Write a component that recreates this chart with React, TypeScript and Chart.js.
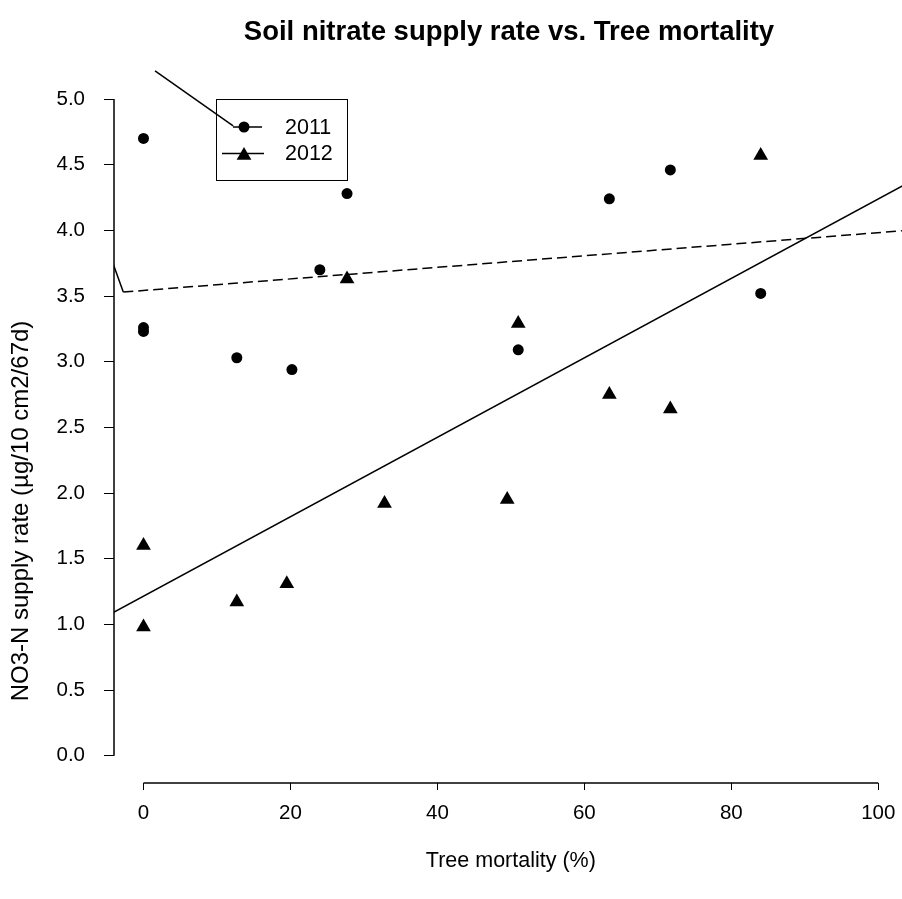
import { useEffect, useRef } from "react";
import { Chart, registerables } from "chart.js";

Chart.register(...registerables);

const FONT = "'Liberation Sans', Arial, Helvetica, sans-serif";

// Tree mortality (%) and NO3-N supply rate per plot
const mortality2011 = [0, 0, 0, 12.7, 20.2, 24, 27.7, 51, 63.4, 71.7, 84];
const nitrate2011 = [4.7, 3.26, 3.23, 3.03, 2.94, 3.7, 4.28, 3.09, 4.24, 4.46, 3.52];
const mortality2012 = [0, 0, 12.7, 19.5, 27.7, 32.8, 49.5, 51, 63.4, 71.7, 84];
const nitrate2012 = [1.6, 0.98, 1.17, 1.31, 3.63, 1.92, 1.95, 3.29, 2.75, 2.64, 4.57];

// Fitted lines (2011 dashed, 2012 solid)
const fit2011X = [-4.1, -2.75, 104];
const fit2011Y = [3.74, 3.53, 4.0];
const fit2012X = [-4.1, 104];
const fit2012Y = [1.09, 4.36];

// Leader line running into the 2011 legend entry
const leaderX = [1.57, 12.2];
const leaderY = [5.215, 4.795];

const xTicks = [0, 20, 40, 60, 80, 100];
const yTicks = [0, 0.5, 1, 1.5, 2, 2.5, 3, 3.5, 4, 4.5, 5];

const titleText = "Soil nitrate supply rate vs. Tree mortality";
const xTitle = "Tree mortality (%)";
const yTitle = "NO3-N supply rate (µg/10 cm2/67d)";
const seriesNames = ["2011", "2012"];

const pts = (xs: number[], ys: number[]) => xs.map((x, i) => ({ x, y: ys[i] }));

const decorations = {
  id: "decorations",
  afterDraw(chart: any) {
    const { ctx, chartArea, scales } = chart;
    const x = scales.x;
    const y = scales.y;
    ctx.save();
    ctx.strokeStyle = "#000";
    ctx.fillStyle = "#000";
    ctx.lineWidth = 1.5;

    // axis lines spanning only the data range
    ctx.beginPath();
    ctx.moveTo(chartArea.left, y.getPixelForValue(5));
    ctx.lineTo(chartArea.left, y.getPixelForValue(0));
    ctx.stroke();
    ctx.beginPath();
    ctx.moveTo(x.getPixelForValue(0), chartArea.bottom);
    ctx.lineTo(x.getPixelForValue(100), chartArea.bottom);
    ctx.stroke();

    // chart title
    ctx.font = `bold 27.5px ${FONT}`;
    ctx.textAlign = "center";
    ctx.textBaseline = "middle";
    ctx.fillText(titleText, 509, 32);

    // axis titles
    ctx.font = `21.5px ${FONT}`;
    ctx.fillText(xTitle, (x.getPixelForValue(0) + x.getPixelForValue(100)) / 2, 861);
    ctx.save();
    ctx.font = `24px ${FONT}`;
    ctx.translate(21, 511);
    ctx.rotate(-Math.PI / 2);
    ctx.fillText(yTitle, 0, 0);
    ctx.restore();

    // legend
    ctx.lineWidth = 1;
    ctx.strokeRect(216.5, 99.5, 131, 81);
    ctx.lineWidth = 1.5;
    ctx.beginPath();
    ctx.moveTo(233, 127);
    ctx.lineTo(262, 127);
    ctx.moveTo(222, 153.5);
    ctx.lineTo(264, 153.5);
    ctx.stroke();
    ctx.beginPath();
    ctx.arc(244, 127, 5.5, 0, Math.PI * 2);
    ctx.fill();
    const r = 8.5;
    const ty = 155.5;
    ctx.beginPath();
    ctx.moveTo(244, ty - r);
    ctx.lineTo(244 + r * Math.sin((2 * Math.PI) / 3), ty + r * 0.5);
    ctx.lineTo(244 - r * Math.sin((2 * Math.PI) / 3), ty + r * 0.5);
    ctx.closePath();
    ctx.fill();
    ctx.font = `21.5px ${FONT}`;
    ctx.textAlign = "left";
    ctx.fillText(seriesNames[0], 285, 128);
    ctx.fillText(seriesNames[1], 285, 154);
    ctx.restore();
  },
};

export default function App() {
  const ref = useRef<HTMLCanvasElement>(null);

  useEffect(() => {
    document.body.style.margin = "0";
    const chart = new Chart(ref.current as HTMLCanvasElement, {
      type: "scatter",
      data: {
        datasets: [
          {
            label: "leader",
            data: pts(leaderX, leaderY),
            showLine: true,
            borderColor: "#000",
            borderWidth: 1.5,
            pointRadius: 0,
          },
          {
            label: "fit 2011",
            data: pts(fit2011X, fit2011Y),
            showLine: true,
            borderColor: "#000",
            borderWidth: 1.5,
            pointRadius: 0,
            segment: {
              borderDash: (c: any) => (c.p0DataIndex === 0 ? [] : [10, 5]),
            },
          },
          {
            label: "fit 2012",
            data: pts(fit2012X, fit2012Y),
            showLine: true,
            borderColor: "#000",
            borderWidth: 1.5,
            pointRadius: 0,
          },
          {
            label: seriesNames[0],
            data: pts(mortality2011, nitrate2011),
            pointStyle: "circle",
            pointRadius: 5.5,
            pointBackgroundColor: "#000",
            pointBorderColor: "#000",
            pointBorderWidth: 0,
          },
          {
            label: seriesNames[1],
            data: pts(mortality2012, nitrate2012),
            pointStyle: "triangle",
            pointRadius: 8.5,
            pointBackgroundColor: "#000",
            pointBorderColor: "#000",
            pointBorderWidth: 0,
          },
        ],
      },
      options: {
        animation: false,
        responsive: false,
        layout: {
          autoPadding: false,
          padding: { top: 60, left: 0, right: 0, bottom: 0 },
        },
        plugins: {
          legend: { display: false },
          tooltip: { enabled: false },
          title: { display: false },
        },
        scales: {
          x: {
            type: "linear",
            min: -4.015,
            max: 103.23,
            afterBuildTicks: (s: any) => {
              s.ticks = xTicks.map((v) => ({ value: v }));
            },
            afterFit: (s: any) => {
              s.height = 116;
              s.paddingLeft = 0;
              s.paddingRight = 0;
            },
            border: { display: false },
            grid: {
              drawOnChartArea: false,
              drawTicks: true,
              tickLength: 7,
              color: "#000",
              lineWidth: 1,
            },
            ticks: {
              color: "#000",
              font: { family: FONT, size: 20.5 },
              padding: 11,
              maxRotation: 0,
              autoSkip: false,
            },
          },
          y: {
            type: "linear",
            min: -0.208,
            max: 5.297,
            afterBuildTicks: (s: any) => {
              s.ticks = yTicks.map((v) => ({ value: v }));
            },
            afterFit: (s: any) => {
              s.width = 114;
              s.paddingTop = 0;
              s.paddingBottom = 0;
            },
            border: { display: false },
            grid: {
              drawOnChartArea: false,
              drawTicks: true,
              tickLength: 10,
              color: "#000",
              lineWidth: 1,
            },
            ticks: {
              color: "#000",
              font: { family: FONT, size: 20.5 },
              padding: 19,
              autoSkip: false,
              callback: (v: any) => Number(v).toFixed(1),
            },
          },
        },
      },
      plugins: [decorations],
    });
    return () => chart.destroy();
  }, []);

  return (
    <div style={{ width: 902, height: 899 }}>
      <canvas ref={ref} width={902} height={899} style={{ display: "block" }} />
    </div>
  );
}
